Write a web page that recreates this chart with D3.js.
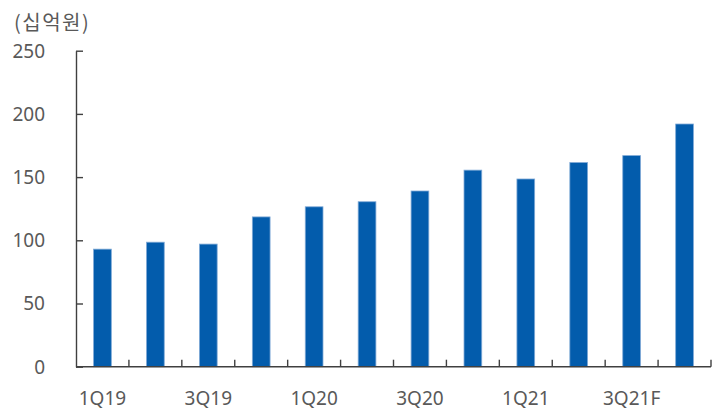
<!DOCTYPE html>
<html>
<head>
<meta charset="utf-8">
<script src="https://cdn.jsdelivr.net/npm/d3@7"></script>
<style>
  html, body { margin: 0; padding: 0; background: #fff; }
  svg { display: block; }
  text { font-family: "Noto Sans", "Noto Sans CJK KR", sans-serif; fill: #595959; }
</style>
</head>
<body>
<svg id="chart" width="724" height="410"></svg>
<script>
// Quarterly figures, 십억원
const quarters = ["1Q19", "2Q19", "3Q19", "4Q19", "1Q20", "2Q20", "3Q20", "4Q20", "1Q21", "2Q21", "3Q21F", "4Q21F"];
const values = [93, 98.5, 97, 118.5, 126.5, 130.5, 139, 155.5, 148.5, 161.5, 167, 192];
const yTicks = [0, 50, 100, 150, 200, 250];
const unitLabel = "(십억원)";

const svg = d3.select("#chart");
const plot = { left: 76, right: 711, top: 50.7, bottom: 366.7 };

const x = d3.scaleBand().domain(quarters).range([plot.left, plot.right]).paddingInner(0).paddingOuter(0);
const y = d3.scaleLinear().domain([0, 250]).range([plot.bottom, plot.top]);

const axisColor = "#404040";

// bars
const barW = x.bandwidth() * 0.335;
svg.append("g").selectAll("rect")
  .data(values)
  .join("rect")
  .attr("x", (d, i) => x(quarters[i]) + x.bandwidth() / 2 - barW / 2)
  .attr("y", d => y(d))
  .attr("width", barW)
  .attr("height", d => plot.bottom - y(d))
  .attr("fill", "#035CAC")
  .attr("stroke", "#7fa9d6")
  .attr("stroke-width", 0.8);

// y axis: ticks point into the plot
const yAxis = svg.append("g")
  .attr("transform", `translate(${plot.left},0)`)
  .call(d3.axisRight(y).tickValues(yTicks).tickSize(7).tickSizeOuter(0).tickFormat(""));
yAxis.select(".domain").attr("stroke", axisColor).attr("stroke-width", 1.4);
yAxis.selectAll(".tick line").attr("stroke", axisColor).attr("stroke-width", 1.4);

svg.append("g").selectAll("text")
  .data(yTicks)
  .join("text")
  .attr("x", 45)
  .attr("y", d => y(d))
  .attr("dy", "0.36em")
  .attr("text-anchor", "end")
  .attr("font-size", 19)
  .text(d => d);

// x axis: ticks at category boundaries pointing up
const xAxis = svg.append("g")
  .attr("transform", `translate(0,${plot.bottom})`);
xAxis.append("line")
  .attr("x1", plot.left).attr("x2", plot.right)
  .attr("stroke", axisColor).attr("stroke-width", 1.4);
const boundaries = quarters.map(q => x(q) + x.bandwidth());
xAxis.selectAll("line.tk")
  .data(boundaries)
  .join("line")
  .attr("class", "tk")
  .attr("x1", d => d).attr("x2", d => d)
  .attr("y1", 0).attr("y2", -7)
  .attr("stroke", axisColor).attr("stroke-width", 1.4);

// category labels, every other quarter
svg.append("g").selectAll("text")
  .data(quarters.filter((q, i) => i % 2 === 0))
  .join("text")
  .attr("x", d => x(d) + x.bandwidth() / 2)
  .attr("y", 405)
  .attr("text-anchor", "middle")
  .attr("font-size", 19)
  .text(d => d);

// unit label
svg.append("text")
  .attr("x", 14)
  .attr("y", 30)
  .attr("font-size", 20)
  .attr("letter-spacing", 1.5)
  .style("font-family", "'Noto Sans CJK KR', 'Noto Sans', sans-serif")
  .text(unitLabel);
</script>
</body>
</html>
